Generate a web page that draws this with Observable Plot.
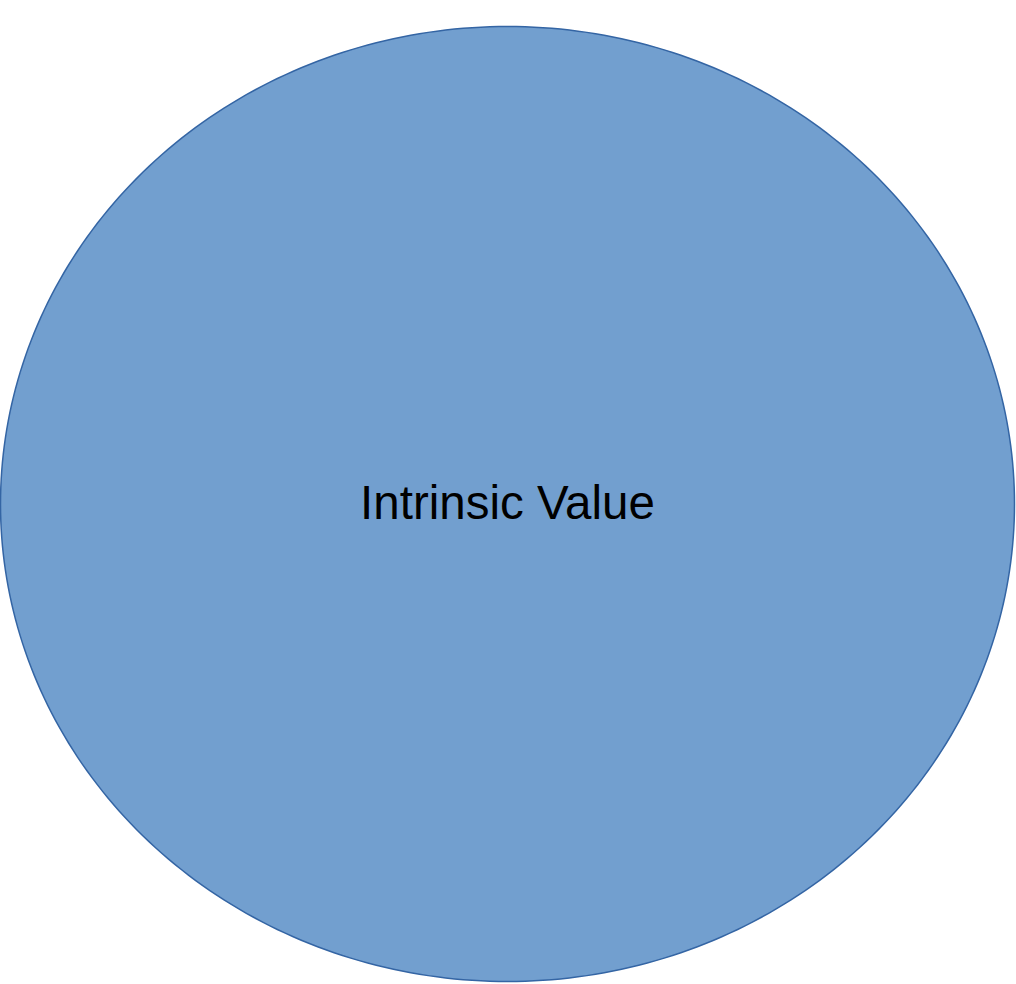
<!DOCTYPE html>
<html>
<head>
<meta charset="utf-8">
<script src="https://cdn.jsdelivr.net/npm/d3@7"></script>
<script src="https://cdn.jsdelivr.net/npm/@observablehq/plot@0.6"></script>
<style>
  html, body { margin: 0; padding: 0; background: #ffffff; overflow: hidden; }
  #chart svg { display: block; }
</style>
</head>
<body>
<div id="chart"></div>
<script>
// Data: one circle (Venn-style) with its label and relative radius
const labels = ["Intrinsic Value"];
const radii = [1];

// Outline of each circle, in data units (unit-circle geometry scaled by radius)
const steps = d3.range(0, 360, 1);
const outline = [];
labels.forEach((label, i) => {
  steps.forEach(deg => {
    const a = deg * Math.PI / 180;
    outline.push({label, x: radii[i] * Math.cos(a), y: radii[i] * Math.sin(a)});
  });
});
const labelRows = labels.map((label, i) => ({label, x: 0, y: 0}));

const chart = Plot.plot({
  width: 1016,
  height: 984,
  marginLeft: 0,
  marginRight: 2,
  marginTop: 26,
  marginBottom: 3,
  x: {domain: [-1, 1], axis: null},
  y: {domain: [-1, 1], axis: null},
  style: {background: "#ffffff"},
  marks: [
    Plot.line(outline, {
      x: "x", y: "y", z: "label",
      curve: "linear-closed",
      fill: "#729fcf",
      stroke: "#3465a4",
      strokeWidth: 1.5
    }),
    Plot.text(labelRows, {
      x: "x", y: "y", text: "label",
      fontSize: 47.5,
      fontFamily: "Liberation Sans, Arial, sans-serif",
      fill: "#000000"
    })
  ]
});
document.getElementById("chart").appendChild(chart);
</script>
</body>
</html>
